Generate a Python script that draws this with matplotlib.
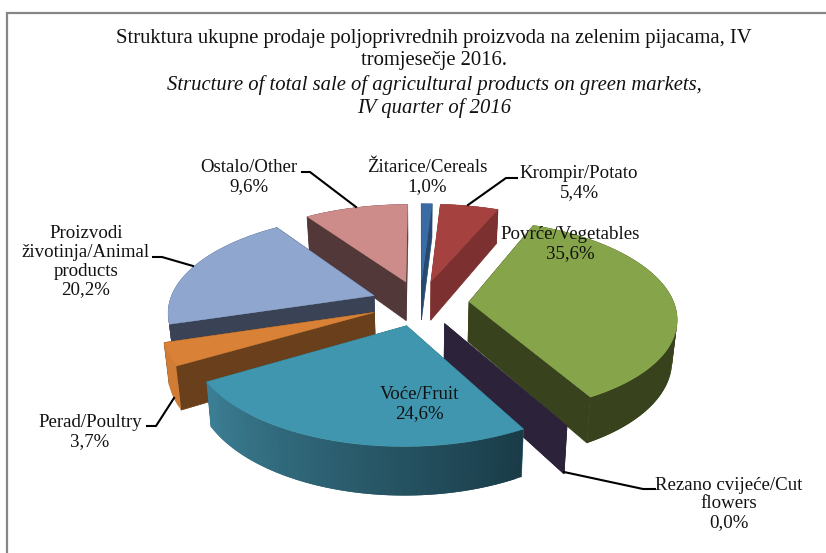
import numpy as np
import matplotlib
matplotlib.use('Agg')
import matplotlib.pyplot as plt
from matplotlib.patches import Polygon

# slices go clockwise from 12 o'clock
names = ['Žitarice/Cereals', 'Krompir/Potato', 'Povrće/Vegetables', 'Rezano cvijeće/Cut\nflowers',
         'Voće/Fruit', 'Perad/Poultry', 'Proizvodi\nživotinja/Animal\nproducts', 'Ostalo/Other']
values = [1.0, 5.4, 35.6, 0.0, 24.6, 3.7, 20.2, 9.6]
value_labels = ['1,0%', '5,4%', '35,6%', '0,0%', '24,6%', '3,7%', '20,2%', '9,6%']

top_colors = ['#3a6ba5', '#a5423f', '#86a44a', '#2c223a', '#3f96ae', '#d98137', '#8fa6cf', '#cd8c8a']
cut_colors = ['#27486f', '#7c302f', '#38421c', '#2c223a', '#2d6c7f', '#69401b', '#3a4256', '#523839']
wall_a = ['#27486f', '#7c302f', '#38421c', '#2c223a', '#1a3c48', '#d07c34', '#3a4256', '#523839']
wall_b = ['#27486f', '#7c302f', '#38421c', '#2c223a', '#3c7f95', '#d07c34', '#3a4256', '#523839']

cx, cy = 420, 303
rx, ry = 205, 95
persp = 0.15
expl = 0.24
depth = 40

title_lines = ['Struktura ukupne prodaje poljoprivrednih proizvoda na zelenim pijacama, IV',
               'tromjesečje 2016.',
               'Structure of total sale of agricultural products on green markets,',
               'IV quarter of 2016']


def project(u, v, low=False):
    w = 1 + persp * v
    x = rx * u / w
    y = ry * v / w
    if low:
        return cx + 0.98 * x, cy - y + depth / w
    return cx + x, cy - y


def mix(c1, c2, t):
    a = np.array(matplotlib.colors.to_rgb(c1))
    b = np.array(matplotlib.colors.to_rgb(c2))
    return a + (b - a) * t


fig = plt.figure(figsize=(8.26, 5.53), dpi=100)
ax = fig.add_axes([0, 0, 1, 1])
ax.set_xlim(0, 826)
ax.set_ylim(553, 0)
ax.axis('off')

ax.plot([7, 7, 826], [553, 13, 13], color='#868686', lw=1.6, solid_joinstyle='miter')

total = sum(values)
edges = np.concatenate([[0], np.cumsum(values)]) / total * 2 * np.pi
mids = (edges[:-1] + edges[1:]) / 2

# back slices first, front ones paint over them
order = [7, 0, 1, 6, 5, 2, 3, 4]
for i in order:
    a0, a1 = edges[i], edges[i + 1]
    off_u, off_v = expl * np.sin(mids[i]), expl * np.cos(mids[i])
    th = np.linspace(a0, a1, max(2, int((a1 - a0) * 40)))
    us = off_u + np.sin(th)
    vs = off_v + np.cos(th)
    top = [project(off_u, off_v)] + [project(u, v) for u, v in zip(us, vs)]
    apex_low = project(off_u, off_v, True)
    # cut faces
    for u, v in [(us[0], vs[0]), (us[-1], vs[-1])]:
        quad = [project(off_u, off_v), project(u, v), project(u, v, True), apex_low]
        ax.add_patch(Polygon(quad, closed=True, fc=cut_colors[i], ec=cut_colors[i], lw=0.5))
    # outer wall, split up for the gradient, quads overlap so no seams show
    for k in range(len(th) - 1):
        k2 = min(k + 2, len(th) - 1)
        quad = [project(us[k], vs[k]), project(us[k2], vs[k2]),
                project(us[k2], vs[k2], True), project(us[k], vs[k], True)]
        col = mix(wall_a[i], wall_b[i], k / max(1, len(th) - 2))
        ax.add_patch(Polygon(quad, closed=True, fc=col, ec='none'))
    if values[i] > 0:
        ax.add_patch(Polygon(top, closed=True, fc=top_colors[i], ec=top_colors[i], lw=0.3))

# leader lines
leaders = [([468, 506, 517], [205, 178, 178]),
           ([302, 310, 356], [172, 172, 207]),
           ([153, 162, 193], [257, 257, 266]),
           ([147, 156, 174], [426, 426, 398]),
           ([564, 643, 655], [472, 489, 489])]
for lx, ly in leaders:
    ax.plot(lx, ly, color='black', lw=1.5)

serif = 'Liberation Serif'
label_pos = [(427, 177), (579, 183), (570, 244), (729, 504), (419, 404), (90, 432), (86, 262), (249, 177)]
for name, val, (x, y) in zip(names, value_labels, label_pos):
    ax.text(x, y, name + '\n' + val, ha='center', va='center', fontsize=13.6, family=serif,
            color='#111111', linespacing=1.13)

title_y = [38, 61, 85, 108]
for k, line in enumerate(title_lines):
    ax.text(434, title_y[k], line, ha='center', va='center', fontsize=14.9, family=serif,
            style='italic' if k > 1 else 'normal', color='#111111')

fig.savefig('out.png', dpi=100)
